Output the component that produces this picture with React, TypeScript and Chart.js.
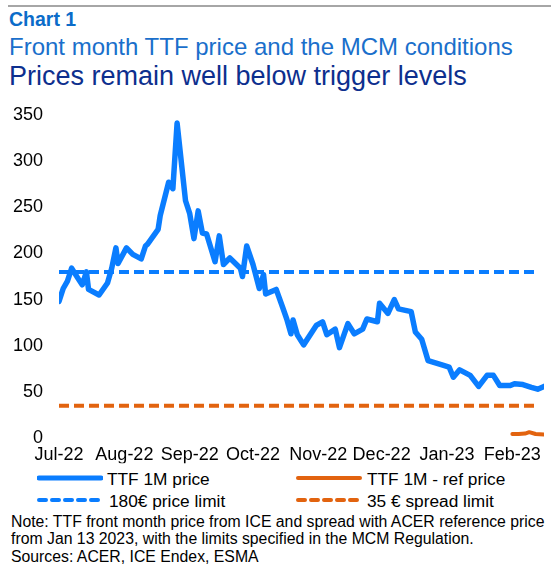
import React, { useEffect, useRef } from "react";
import { Chart, registerables } from "chart.js";

Chart.register(...registerables);

// ---- data (days since 1 Jul 2022) ----
const monthLabels = ["Jul-22", "Aug-22", "Sep-22", "Oct-22", "Nov-22", "Dec-22", "Jan-23", "Feb-23"];
const monthStartDays = [0, 31, 62, 92, 123, 153, 184, 215];
const yTickValues = [0, 50, 100, 150, 200, 250, 300, 350];

const priceDays = [
  0, 2, 4, 6, 9, 11, 13, 14, 19, 23, 25, 27, 28, 32, 35, 39, 41, 42, 47, 48,
  52, 54, 56, 60, 62, 64, 66, 68, 70, 74, 76, 78, 81, 86, 87, 89, 92, 95, 97, 98,
  103, 106, 108, 110, 111, 113, 116, 122, 125, 127, 131, 133, 137, 140, 144, 146, 151, 152, 156, 159,
  161, 167, 169, 172, 175, 182, 185, 187, 190, 195, 199, 203, 206, 209, 214, 216, 220, 224, 227, 230,
];
const priceValues = [
  148, 162, 170, 184, 173, 166, 180, 161, 155, 168, 184, 206, 189, 206, 199, 194, 208, 210, 226, 241,
  277, 270, 341, 257, 243, 216, 246, 222, 221, 191, 219, 188, 195, 184, 175, 208, 188, 162, 177, 156,
  161, 142, 129, 113, 128, 112, 101, 122, 126, 112, 118, 98, 124, 113, 118, 129, 126, 146, 135, 150,
  140, 137, 115, 107, 84, 79, 77, 66, 74, 68, 56, 68, 68, 57, 57, 59, 58, 55, 53, 56,
];

const spreadDays = [215, 218, 221, 223, 226, 230];
const spreadValues = [4.5, 4.5, 5, 6.5, 4.5, 4];

const limitDays = [0, 227];
const priceLimit = 180;
const spreadLimit = 35;

const BLUE = "#0a7dff";
const ORANGE = "#e2630f";
const FONT = "'Liberation Sans', Arial, Helvetica, sans-serif";

function LegendLine({ color, dashed, width }: { color: string; dashed?: boolean; width: number }) {
  return (
    <svg width={66} height={10} style={{ display: "block" }}>
      <line
        x1={2}
        y1={5}
        x2={64}
        y2={5}
        stroke={color}
        strokeWidth={width}
        strokeLinecap="round"
        strokeDasharray={dashed ? "7 6" : undefined}
      />
    </svg>
  );
}

export default function App() {
  const canvasRef = useRef<HTMLCanvasElement | null>(null);

  useEffect(() => {
    if (!canvasRef.current) return;
    const priceData = priceDays.map((d, i) => ({ x: d, y: priceValues[i] }));
    const spreadData = spreadDays.map((d, i) => ({ x: d, y: spreadValues[i] }));
    const priceLimitData = limitDays.map((d) => ({ x: d, y: priceLimit }));
    const spreadLimitData = limitDays.map((d) => ({ x: d, y: spreadLimit }));

    const chart = new Chart(canvasRef.current, {
      type: "line",
      data: {
        datasets: [
          {
            label: "TTF 1M price",
            data: priceData,
            borderColor: BLUE,
            borderWidth: 5.5,
            pointRadius: 0,
            tension: 0,
            borderJoinStyle: "round",
            borderCapStyle: "round",
          },
          {
            label: "TTF 1M - ref price",
            data: spreadData,
            borderColor: ORANGE,
            borderWidth: 4,
            pointRadius: 0,
            tension: 0,
            borderJoinStyle: "round",
            borderCapStyle: "round",
          },
          {
            label: "180€ price limit",
            data: priceLimitData,
            borderColor: BLUE,
            borderWidth: 4,
            borderDash: [10, 5],
            pointRadius: 0,
          },
          {
            label: "35 € spread limit",
            data: spreadLimitData,
            borderColor: ORANGE,
            borderWidth: 4,
            borderDash: [10, 5],
            pointRadius: 0,
          },
        ],
      },
      options: {
        animation: false,
        responsive: true,
        maintainAspectRatio: false,
        layout: { padding: { top: 15, right: 7, left: 0, bottom: 0 } },
        plugins: {
          legend: { display: false },
          tooltip: { enabled: false },
          title: { display: false },
        },
        scales: {
          x: {
            type: "linear",
            min: 0,
            max: 230,
            grid: { display: false, drawTicks: false },
            border: { display: false },
            afterFit: (scale: any) => {
              scale.height = 25;
            },
            afterBuildTicks: (scale: any) => {
              scale.ticks = monthStartDays.map((v) => ({ value: v }));
            },
            ticks: {
              autoSkip: false,
              maxRotation: 0,
              minRotation: 0,
              padding: 6,
              color: "#000",
              font: { family: FONT, size: 18 },
              callback: (value: any) => {
                const idx = monthStartDays.indexOf(Number(value));
                return idx >= 0 ? monthLabels[idx] : "";
              },
            },
          },
          y: {
            min: 0,
            max: 350,
            grid: { display: false, drawTicks: false },
            border: { display: false },
            afterFit: (scale: any) => {
              scale.width = 59;
            },
            afterBuildTicks: (scale: any) => {
              scale.ticks = yTickValues.map((v) => ({ value: v }));
            },
            ticks: {
              padding: 16,
              color: "#000",
              font: { family: FONT, size: 18 },
            },
          },
        },
      },
    });
    return () => chart.destroy();
  }, []);

  const abs = (top: number, left: number, extra: React.CSSProperties = {}): React.CSSProperties => ({
    position: "absolute",
    top,
    left,
    whiteSpace: "nowrap",
    fontFamily: FONT,
    ...extra,
  });

  const legendText: React.CSSProperties = { fontSize: 17.3, lineHeight: "18px", color: "#000" };

  return (
    <div
      style={{
        position: "absolute",
        left: 0,
        top: 0,
        width: 551,
        height: 564,
        overflow: "hidden",
        background: "#fff",
        fontFamily: FONT,
      }}
    >
      <div style={{ position: "absolute", top: 5, left: 8, width: 543, height: 2, background: "#a6a6a6" }} />
      <div style={abs(9.5, 9, { fontSize: 19.5, lineHeight: "19.5px", fontWeight: "bold", color: "#0b6cc9" })}>Chart 1</div>
      <div style={abs(35, 9, { fontSize: 24, lineHeight: "24px", color: "#1a6fcb" })}>
        Front month TTF price and the MCM conditions
      </div>
      <div style={abs(63, 9, { fontSize: 27, lineHeight: "27px", color: "#0d2f8e" })}>
        Prices remain well below trigger levels
      </div>

      <div style={{ position: "absolute", left: 0, top: 88, width: 551, height: 377 }}>
        <canvas ref={canvasRef} />
      </div>

      {/* legend */}
      <div style={abs(473, 37)}>
        <LegendLine color={BLUE} width={5} />
      </div>
      <div style={abs(469.5, 107, legendText)}>TTF 1M price</div>
      <div style={abs(473, 296)}>
        <LegendLine color={ORANGE} width={4} />
      </div>
      <div style={abs(469.5, 367, legendText)}>TTF 1M - ref price</div>

      <div style={abs(495, 37)}>
        <LegendLine color={BLUE} width={4} dashed />
      </div>
      <div style={abs(491.5, 109, legendText)}>180€ price limit</div>
      <div style={abs(495, 296)}>
        <LegendLine color={ORANGE} width={4} dashed />
      </div>
      <div style={abs(491.5, 367, legendText)}>35 € spread limit</div>

      {/* note */}
      <div style={abs(512.8, 11, { fontSize: 15.8, lineHeight: "17.5px", color: "#000" })}>
        Note: TTF front month price from ICE and spread with ACER reference price
        <br />
        from Jan 13 2023, with the limits specified in the MCM Regulation.
        <br />
        Sources: ACER, ICE Endex, ESMA
      </div>
    </div>
  );
}
